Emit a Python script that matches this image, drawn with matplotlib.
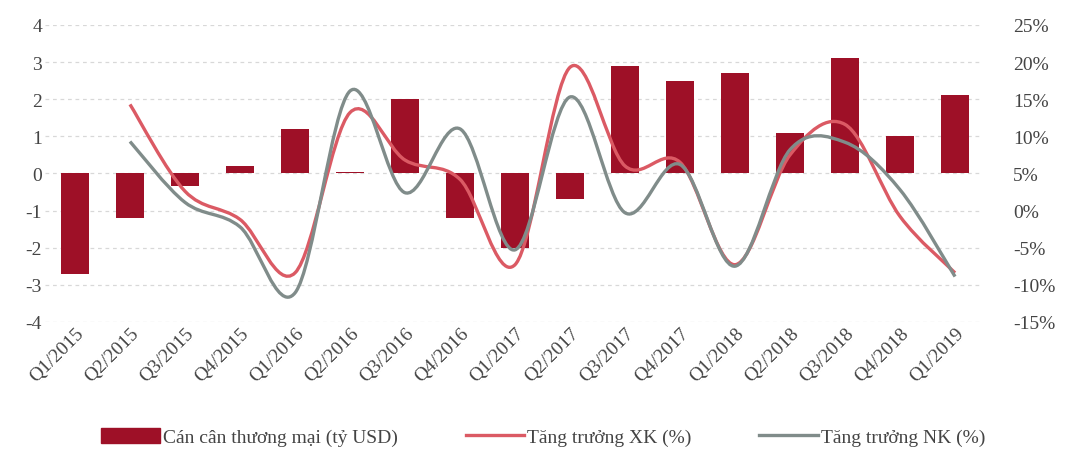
import numpy as np
import matplotlib.pyplot as plt
from matplotlib.path import Path
from matplotlib.patches import PathPatch
from matplotlib.lines import Line2D
from matplotlib.patches import Patch

plt.rcParams['font.family'] = ['Liberation Serif', 'DejaVu Serif']
plt.rcParams['axes.unicode_minus'] = False

quarters = ['Q1/2015', 'Q2/2015', 'Q3/2015', 'Q4/2015', 'Q1/2016', 'Q2/2016',
            'Q3/2016', 'Q4/2016', 'Q1/2017', 'Q2/2017', 'Q3/2017', 'Q4/2017',
            'Q1/2018', 'Q2/2018', 'Q3/2018', 'Q4/2018', 'Q1/2019']
# cán cân thương mại, tỷ USD
trade_balance = [-2.7, -1.2, -0.35, 0.2, 1.2, 0.05, 2.0, -1.2, -2.0, -0.7,
                 2.9, 2.5, 2.7, 1.1, 3.1, 1.0, 2.1]
# tăng trưởng XK / NK (%), bắt đầu từ Q2/2015
export_growth = [14.3, 2.6, -1.2, -8.4, 13.2, 6.8, 4.2, -7.3, 19.3, 6.0,
                 6.5, -7.3, 7.5, 11.6, -0.8, -8.4]
import_growth = [9.3, 1.1, -2.2, -11.1, 16.1, 2.4, 11.0, -5.3, 15.3, -0.3,
                 6.2, -7.5, 8.2, 9.2, 2.8, -8.9]

BAR_COLOR = '#9E1027'
XK_COLOR = '#DB5A64'
NK_COLOR = '#808C8A'
TXT = '#444444'


def smooth_path(xs, ys, tension=1/6):
    # đường cong kiểu "smoothed line" (Catmull-Rom -> Bezier bậc 3)
    pts = np.column_stack([xs, ys]).astype(float)
    n = len(pts)
    verts = [pts[0]]
    codes = [Path.MOVETO]
    for i in range(n - 1):
        p0 = pts[i - 1] if i > 0 else pts[i]
        p1 = pts[i]
        p2 = pts[i + 1]
        p3 = pts[i + 2] if i + 2 < n else pts[i + 1]
        c1 = p1 + (p2 - p0) * tension
        c2 = p2 - (p3 - p1) * tension
        verts += [c1, c2, p2]
        codes += [Path.CURVE4] * 3
    return Path(verts, codes)


x = np.arange(len(quarters))

fig = plt.figure(figsize=(10.65, 4.56), dpi=100)
ax = fig.add_axes([0.042, 0.292, 0.878, 0.651])
ax2 = ax.twinx()

ax.bar(x, trade_balance, width=0.5, color=BAR_COLOR, zorder=2)
ax.set_ylim(-4, 4)
ax.set_yticks(range(-4, 5))
ax.set_xlim(-0.55, len(quarters) - 0.55)
ax.set_xticks(x)
ax.set_xticklabels(quarters, rotation=45, ha='right', rotation_mode='anchor',
                   fontsize=14, color=TXT)
for v in range(-4, 5):
    ax.axhline(v, color='#D8D8D8', lw=0.9, ls=(0, (3, 3)), zorder=0)

ax2.set_ylim(-15, 25)
ax2.set_yticks(range(-15, 30, 5))
ax2.set_yticklabels([f'{v}%' for v in range(-15, 30, 5)])

xl = x[1:]
ax2.add_patch(PathPatch(smooth_path(xl, export_growth), fill=False,
                        edgecolor=XK_COLOR, lw=2.4, zorder=3))
ax2.add_patch(PathPatch(smooth_path(xl, import_growth), fill=False,
                        edgecolor=NK_COLOR, lw=2.4, zorder=3))

for a in (ax, ax2):
    for s in a.spines.values():
        s.set_visible(False)
    a.tick_params(length=0, labelsize=14, labelcolor=TXT)
ax.tick_params(axis='x', pad=2)
ax.tick_params(axis='y', pad=2)
ax2.tick_params(axis='y', pad=24)

handles = [Patch(color=BAR_COLOR),
           Line2D([], [], color=XK_COLOR, lw=2.4),
           Line2D([], [], color=NK_COLOR, lw=2.4)]
labels = ['Cán cân thương mại (tỷ USD)', 'Tăng trưởng XK (%)', 'Tăng trưởng NK (%)']
fig.legend(handles, labels, loc='center', bbox_to_anchor=(0.51, 0.04), ncol=3,
           frameon=False, fontsize=14, handlelength=3.0, handleheight=0.8,
           handletextpad=0.15, columnspacing=3.5, labelcolor=TXT)

fig.savefig('out.png', dpi=100)
